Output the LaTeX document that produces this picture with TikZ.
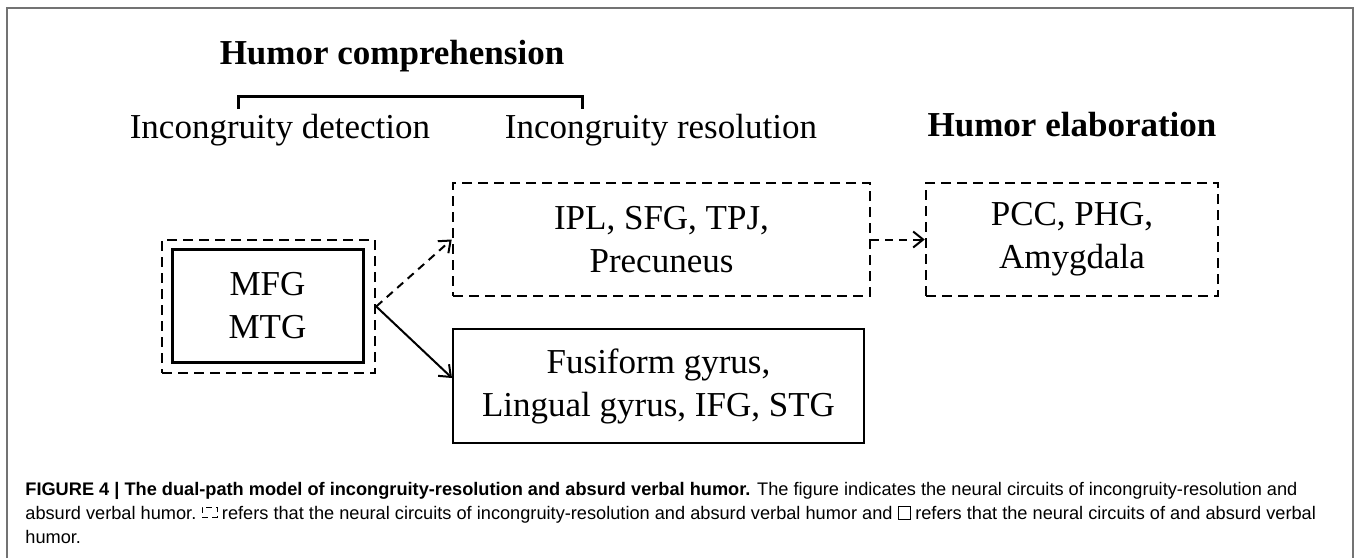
\documentclass[tikz,border=0pt]{standalone}
\usepackage{fontspec}
\setmainfont{Liberation Serif}
\newfontfamily\capfont{Liberation Sans}
\usepackage{tikz}
\usetikzlibrary{arrows.meta,positioning}
\definecolor{framegray}{gray}{0.45}

\begin{document}
\begin{tikzpicture}[x=0.5pt, y=-0.5pt,
		box/.style={inner sep=0pt, align=center, font=\fontsize{17.5}{21.5}\selectfont},
		dbox/.style={box, draw, dashed, line width=1.25pt, dash pattern=on 5pt off 3pt},
		sbox/.style={box, draw, line width=1pt},
		head/.style={inner sep=0pt, anchor=base, font=\fontsize{17.5}{21.5}\selectfont},
		captxt/.style={inner sep=0pt, anchor=base west, font=\capfont\fontsize{9.1}{11}\selectfont},
		>={Straight Barb[length=5pt, width=8pt]}]
				\useasboundingbox (0,0) rectangle (1357,558);
				\draw[framegray, line width=1pt] (7,558) |- (1353,8) -- (1353,558);
				
				\path (392,64) node[head] (hcomp){\bfseries Humor comprehension}
				(280,138) node[head] (hdet){Incongruity detection}
				(661,138) node[head] (hres){Incongruity resolution}
				(1072,136) node[head] (helab){\bfseries Humor elaboration};
				\draw[line width=1.5pt] (238,109) |- (582,96) -- (582,109);
				
				\path (268.5,306.5) node[dbox, minimum width=106.5pt, minimum height=66.5pt] (outer){}
				(267.5,305.5) node[sbox, line width=1.5pt, minimum width=95.5pt, minimum height=56.5pt] (inner){MFG\\MTG}
				(661.5,239.5) node[dbox, minimum width=208.5pt, minimum height=56.5pt] (ipl){IPL, SFG, TPJ,\\Precuneus}
				(1072,239.5) node[dbox, minimum width=146pt, minimum height=56.5pt] (pcc){PCC, PHG,\\Amygdala}
				(658.5,386) node[sbox, minimum width=205.5pt, minimum height=57pt] (fus){Fusiform gyrus,\\Lingual gyrus, IFG, STG};
				
				\draw[->, line width=1pt, dash pattern=on 4pt off 3pt] (outer.east) -- (ipl.west);
				\draw[->, line width=1pt] (outer.east) -- ([yshift=4pt]fus.west);
				\draw[->, line width=1pt, dash pattern=on 4pt off 3pt] (ipl.east) -- (pcc.west);
				
				% caption
				\path (25,495) node[captxt] (cap1){\textbf{FIGURE 4 | The dual-path model of incongruity-resolution and absurd verbal humor.} The figure indicates the neural circuits of incongruity-resolution and}
				(25,519) node[captxt] (cap2a){absurd verbal humor.};
				\node[draw, densely dashed, line width=0.4pt, minimum width=7.5pt, minimum height=5pt, inner sep=0pt, right=2.5pt of cap2a.base east, yshift=3.3pt] (symd){};
				\node[captxt] (cap2b) at ([xshift=2pt]symd.east |- cap2a.base){refers that the neural circuits of incongruity-resolution and absurd verbal humor and};
				\node[draw, line width=0.4pt, minimum width=6pt, minimum height=6.5pt, inner sep=0pt, right=2.5pt of cap2b.base east, yshift=3.3pt] (syms){};
				\node[captxt] (cap2c) at ([xshift=2pt]syms.east |- cap2a.base){refers that the neural circuits of and absurd verbal};
				\path (25,543) node[captxt] (cap3){humor.};
			\end{tikzpicture}
\end{document}
